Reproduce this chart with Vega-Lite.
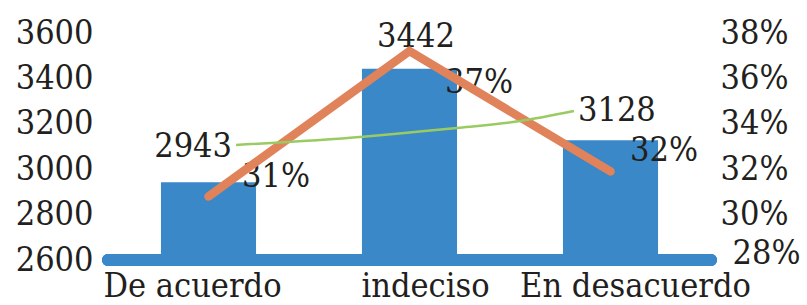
{
  "$schema": "https://vega.github.io/schema/vega-lite/v6.json",
  "width": 603,
  "height": 227,
  "autosize": "none",
  "padding": {"left": 108, "top": 33, "right": 96, "bottom": 45},
  "background": "white",
  "config": {
    "view": {"stroke": null},
    "axis": {"labelFont": "DejaVu Serif Condensed", "labelFontSize": 34, "labelColor": "#231f20", "labelLimit": 0, "domain": false, "ticks": false, "grid": false, "title": null},
    "text": {"font": "DejaVu Serif Condensed", "fontSize": 34, "color": "#231f20", "baseline": "middle"}
  },
  "datasets": {
    "opiniones": [
      {"opinion": "De acuerdo", "cantidad": 2943, "pct": 0.308},
      {"opinion": "indeciso", "cantidad": 3442, "pct": 0.372},
      {"opinion": "En desacuerdo", "cantidad": 3128, "pct": 0.319}
    ],
    "tendencia": [
      {"t": 1.137, "v": 3107},
      {"t": 1.769, "v": 3143},
      {"t": 2.0, "v": 3162},
      {"t": 2.249, "v": 3183},
      {"t": 2.55, "v": 3212},
      {"t": 2.818, "v": 3256}
    ]
  },
  "layer": [
    {
      "data": {"name": "opiniones"},
      "mark": {"type": "bar", "color": "#3a88c8"},
      "encoding": {
        "x": {"field": "opinion", "type": "nominal", "sort": null,
              "scale": {"type": "band", "domain": ["De acuerdo", "indeciso", "En desacuerdo"], "paddingInner": 0.527, "paddingOuter": 0.2635},
              "axis": {"labelAngle": 0, "labelPadding": 9, "labelFontSize": 34,
                       "labelOffset": {"condition": [{"test": "datum.value === 'De acuerdo'", "value": -16}, {"test": "datum.value === 'indeciso'", "value": 16}], "value": 25}}},
        "y": {"field": "cantidad", "type": "quantitative",
              "scale": {"domain": [2600, 3600], "zero": false, "nice": false},
              "axis": {"orient": "left", "values": [2600, 2800, 3000, 3200, 3400, 3600], "format": "d", "labelPadding": 15}},
        "y2": {"datum": 2600}
      }
    },
    {
      "data": {"name": "opiniones"},
      "mark": {"type": "rule", "color": "#3a88c8", "strokeWidth": 12, "strokeCap": "round"},
      "encoding": {
        "y": {"datum": 2600, "type": "quantitative", "scale": {"domain": [2600, 3600], "zero": false, "nice": false}, "axis": null}
      }
    },
    {
      "data": {"name": "opiniones"},
      "transform": [{"filter": "datum.opinion === 'De acuerdo'"}],
      "mark": {"type": "text", "align": "right", "dx": 23.5, "dy": -35},
      "encoding": {
        "x": {"field": "opinion", "type": "nominal", "sort": null, "scale": {"type": "band", "domain": ["De acuerdo", "indeciso", "En desacuerdo"], "paddingInner": 0.527, "paddingOuter": 0.2635}, "axis": null},
        "y": {"field": "cantidad", "type": "quantitative", "scale": {"domain": [2600, 3600], "zero": false, "nice": false}, "axis": null},
        "text": {"field": "cantidad", "type": "quantitative", "format": "d"}
      }
    },
    {
      "data": {"name": "opiniones"},
      "transform": [{"filter": "datum.opinion === 'indeciso'"}],
      "mark": {"type": "text", "align": "center", "dx": 6.5, "dy": -31.5},
      "encoding": {
        "x": {"field": "opinion", "type": "nominal", "sort": null, "scale": {"type": "band", "domain": ["De acuerdo", "indeciso", "En desacuerdo"], "paddingInner": 0.527, "paddingOuter": 0.2635}, "axis": null},
        "y": {"field": "cantidad", "type": "quantitative", "scale": {"domain": [2600, 3600], "zero": false, "nice": false}, "axis": null},
        "text": {"field": "cantidad", "type": "quantitative", "format": "d"}
      }
    },
    {
      "data": {"name": "opiniones"},
      "transform": [{"filter": "datum.opinion === 'En desacuerdo'"}],
      "mark": {"type": "text", "align": "left", "dx": -32.5, "dy": -29},
      "encoding": {
        "x": {"field": "opinion", "type": "nominal", "sort": null, "scale": {"type": "band", "domain": ["De acuerdo", "indeciso", "En desacuerdo"], "paddingInner": 0.527, "paddingOuter": 0.2635}, "axis": null},
        "y": {"field": "cantidad", "type": "quantitative", "scale": {"domain": [2600, 3600], "zero": false, "nice": false}, "axis": null},
        "text": {"field": "cantidad", "type": "quantitative", "format": "d"}
      }
    },
    {
      "data": {"name": "opiniones"},
      "transform": [{"filter": "datum.opinion === 'De acuerdo'"}],
      "mark": {"type": "text", "align": "left", "dx": 33.5, "dy": -19},
      "encoding": {
        "x": {"field": "opinion", "type": "nominal", "sort": null, "scale": {"type": "band", "domain": ["De acuerdo", "indeciso", "En desacuerdo"], "paddingInner": 0.527, "paddingOuter": 0.2635}, "axis": null},
        "y": {"field": "pct", "type": "quantitative", "scale": {"domain": [0.28, 0.38], "zero": false, "nice": false}, "axis": null},
        "text": {"field": "pct", "type": "quantitative", "format": ".0%"}
      }
    },
    {
      "data": {"name": "opiniones"},
      "transform": [{"filter": "datum.opinion === 'indeciso'"}],
      "mark": {"type": "text", "align": "left", "dx": 35.5, "dy": 32},
      "encoding": {
        "x": {"field": "opinion", "type": "nominal", "sort": null, "scale": {"type": "band", "domain": ["De acuerdo", "indeciso", "En desacuerdo"], "paddingInner": 0.527, "paddingOuter": 0.2635}, "axis": null},
        "y": {"field": "pct", "type": "quantitative", "scale": {"domain": [0.28, 0.38], "zero": false, "nice": false}, "axis": null},
        "text": {"field": "pct", "type": "quantitative", "format": ".0%"}
      }
    },
    {
      "data": {"name": "opiniones"},
      "transform": [{"filter": "datum.opinion === 'En desacuerdo'"}],
      "mark": {"type": "text", "align": "left", "dx": 19.5, "dy": -20},
      "encoding": {
        "x": {"field": "opinion", "type": "nominal", "sort": null, "scale": {"type": "band", "domain": ["De acuerdo", "indeciso", "En desacuerdo"], "paddingInner": 0.527, "paddingOuter": 0.2635}, "axis": null},
        "y": {"field": "pct", "type": "quantitative", "scale": {"domain": [0.28, 0.38], "zero": false, "nice": false}, "axis": null},
        "text": {"field": "pct", "type": "quantitative", "format": ".0%"}
      }
    },
    {
      "data": {"name": "opiniones"},
      "mark": {"type": "line", "color": "#e0825a", "strokeWidth": 8.5, "strokeCap": "round", "strokeJoin": "miter"},
      "encoding": {
        "x": {"field": "opinion", "type": "nominal", "sort": null, "scale": {"type": "band", "domain": ["De acuerdo", "indeciso", "En desacuerdo"], "paddingInner": 0.527, "paddingOuter": 0.2635}, "axis": null},
        "y": {"field": "pct", "type": "quantitative",
              "scale": {"domain": [0.28, 0.38], "zero": false, "nice": false},
              "axis": {"orient": "right", "values": [0.28, 0.30, 0.32, 0.34, 0.36, 0.38], "format": ".0%",
                       "labelPadding": {"condition": {"test": "datum.value < 0.29", "value": 21}, "value": 9},
                       "labelOffset": {"condition": {"test": "datum.value < 0.29", "value": -7}, "value": 0}}}
      }
    },
    {
      "data": {"name": "tendencia"},
      "mark": {"type": "line", "color": "#9acb62", "strokeWidth": 2.5, "interpolate": "monotone"},
      "encoding": {
        "x": {"field": "t", "type": "quantitative", "scale": {"domain": [0.5, 3.5], "zero": false, "nice": false}, "axis": null},
        "y": {"field": "v", "type": "quantitative", "scale": {"domain": [2600, 3600], "zero": false, "nice": false}, "axis": null}
      }
    }
  ],
  "resolve": {"scale": {"x": "independent", "y": "independent"}, "axis": {"x": "independent", "y": "independent"}}
}
